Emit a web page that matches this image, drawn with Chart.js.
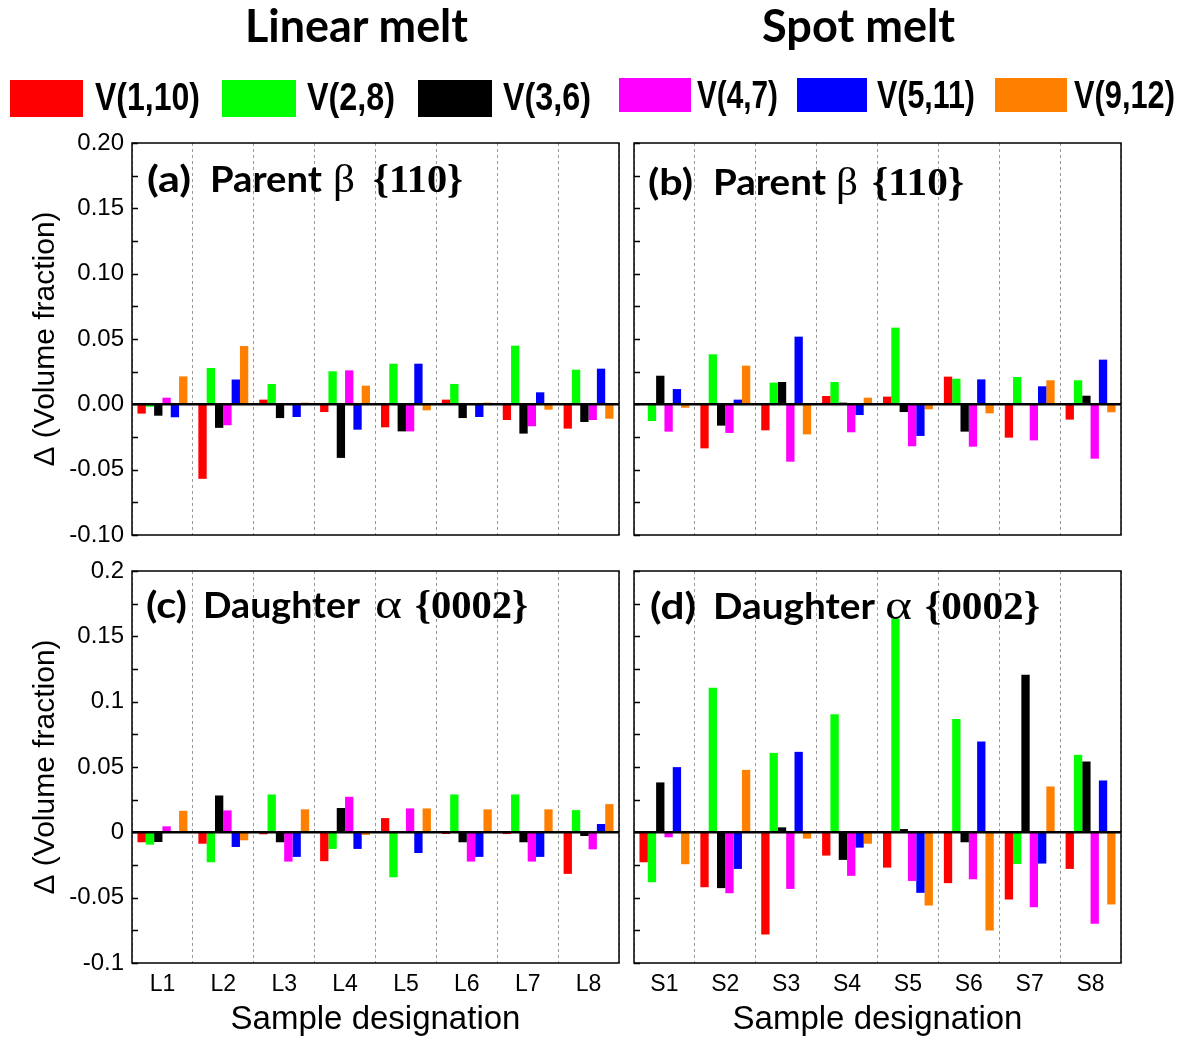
<!DOCTYPE html>
<html>
<head>
<meta charset="utf-8">
<script src="https://cdn.jsdelivr.net/npm/chart.js@4.4.1/dist/chart.umd.min.js"></script>
<style>
  html, body { margin: 0; padding: 0; background: #fff; }
  #page { position: relative; width: 1185px; height: 1040px; overflow: hidden; background: #fff; }
  #page canvas { position: absolute; }
  #overlay { position: absolute; left: 0; top: 0; pointer-events: none; }
</style>
</head>
<body>
<div id="page">
  <canvas id="panelA" width="628" height="430" style="left:0px;top:120px"></canvas>
  <canvas id="panelB" width="559" height="430" style="left:626px;top:120px"></canvas>
  <canvas id="panelC" width="628" height="490" style="left:0px;top:550px"></canvas>
  <canvas id="panelD" width="559" height="490" style="left:626px;top:550px"></canvas>

  <svg id="overlay" width="1185" height="1040" xmlns="http://www.w3.org/2000/svg">
    <!-- column headings -->
    <g font-family="Lato, 'Open Sans', sans-serif" font-weight="700" fill="#000">
      <text x="245" y="42" font-size="45" textLength="223" lengthAdjust="spacingAndGlyphs">Linear melt</text>
      <text x="762" y="42" font-size="45" textLength="193" lengthAdjust="spacingAndGlyphs">Spot melt</text>
    </g>
    <g id="legend"></g>
    <!-- panel captions -->
    <g fill="#000">
      <g font-family="Lato, 'Open Sans', sans-serif" font-weight="700" font-size="37">
        <text x="147" y="192" textLength="44" lengthAdjust="spacingAndGlyphs">(a)</text>
        <text x="210" y="192" textLength="112" lengthAdjust="spacingAndGlyphs">Parent</text>
        <text x="648" y="195" textLength="45" lengthAdjust="spacingAndGlyphs">(b)</text>
        <text x="713" y="195" textLength="113" lengthAdjust="spacingAndGlyphs">Parent</text>
        <text x="146" y="618" textLength="41" lengthAdjust="spacingAndGlyphs">(c)</text>
        <text x="203" y="618" textLength="157" lengthAdjust="spacingAndGlyphs">Daughter</text>
        <text x="650" y="619" textLength="46" lengthAdjust="spacingAndGlyphs">(d)</text>
        <text x="713" y="619" textLength="162" lengthAdjust="spacingAndGlyphs">Daughter</text>
      </g>
      <g font-family="'Liberation Serif', 'DejaVu Serif', serif" font-size="40">
        <text x="333" y="192" textLength="22" lengthAdjust="spacingAndGlyphs">β</text>
        <text x="836" y="195" textLength="22" lengthAdjust="spacingAndGlyphs">β</text>
        <text x="375" y="618" textLength="27" lengthAdjust="spacingAndGlyphs">α</text>
        <text x="885" y="619" textLength="27" lengthAdjust="spacingAndGlyphs">α</text>
      </g>
      <g font-family="'Liberation Serif', 'DejaVu Serif', serif" font-weight="700" font-size="40">
        <text x="373" y="192" textLength="90" lengthAdjust="spacingAndGlyphs">{110}</text>
        <text x="872" y="195" textLength="92" lengthAdjust="spacingAndGlyphs">{110}</text>
        <text x="415" y="618" textLength="113" lengthAdjust="spacingAndGlyphs">{0002}</text>
        <text x="925" y="619" textLength="115" lengthAdjust="spacingAndGlyphs">{0002}</text>
      </g>
    </g>
  </svg>
</div>

<script>
// Variant pairs and their colours
const seriesNames  = ['V(1,10)', 'V(2,8)', 'V(3,6)', 'V(4,7)', 'V(5,11)', 'V(9,12)'];
const seriesColors = ['#ff0000', '#00ff00', '#000000', '#ff00ff', '#0000ff', '#ff8000'];

// Sample designations
const linearSamples = ['L1', 'L2', 'L3', 'L4', 'L5', 'L6', 'L7', 'L8'];
const spotSamples   = ['S1', 'S2', 'S3', 'S4', 'S5', 'S6', 'S7', 'S8'];

// Y tick labels (top row uses two decimals)
const yLabelsTop    = ['-0.10', '-0.05', '0.00', '0.05', '0.10', '0.15', '0.20'];
const yLabelsBottom = ['-0.1', '-0.05', '0', '0.05', '0.1', '0.15', '0.2'];

// Δ volume fraction, one row per variant pair, one value per sample
// (a) Linear melt, parent β {110}
const parentLinear = [
  [-0.0071, -0.0570,  0.0036, -0.0059, -0.0176,  0.0036, -0.0120, -0.0186],
  [-0.0018,  0.0278,  0.0156,  0.0253,  0.0311,  0.0156,  0.0449,  0.0265],
  [-0.0087, -0.0180, -0.0105, -0.0410, -0.0207, -0.0105, -0.0224, -0.0135],
  [ 0.0051, -0.0160,  0.0000,  0.0260, -0.0207,  0.0000, -0.0168, -0.0120],
  [-0.0099,  0.0190, -0.0097, -0.0194,  0.0311, -0.0097,  0.0092,  0.0273],
  [ 0.0214,  0.0446,  0.0013,  0.0143, -0.0046,  0.0013, -0.0041, -0.0110]
];
// (b) Spot melt, parent β {110}
const parentSpot = [
  [ 0.0010, -0.0337, -0.0199,  0.0064,  0.0059,  0.0212, -0.0255, -0.0117],
  [-0.0128,  0.0383,  0.0166,  0.0171,  0.0587,  0.0196,  0.0209,  0.0184],
  [ 0.0219, -0.0163,  0.0171,  0.0013, -0.0059, -0.0209,  0.0000,  0.0066],
  [-0.0209, -0.0219, -0.0439, -0.0214, -0.0321, -0.0324, -0.0276, -0.0416],
  [ 0.0117,  0.0036,  0.0518, -0.0082, -0.0242,  0.0191,  0.0138,  0.0342],
  [-0.0026,  0.0296, -0.0230,  0.0051, -0.0038, -0.0069,  0.0184, -0.0061]
];
// (c) Linear melt, daughter α {0002}
const daughterLinear = [
  [-0.0076, -0.0087, -0.0015, -0.0221,  0.0109, -0.0013, -0.0013, -0.0318],
  [-0.0094, -0.0229,  0.0290, -0.0127, -0.0344,  0.0290,  0.0290,  0.0170],
  [-0.0074,  0.0282, -0.0076,  0.0186,  0.0008, -0.0076, -0.0076, -0.0028],
  [ 0.0046,  0.0168, -0.0224,  0.0272,  0.0183, -0.0224, -0.0224, -0.0130],
  [ 0.0005, -0.0112, -0.0188, -0.0127, -0.0158, -0.0188, -0.0188,  0.0064],
  [ 0.0165, -0.0061,  0.0176, -0.0020,  0.0183,  0.0176,  0.0176,  0.0216]
];
// (d) Spot melt, daughter α {0002}
const daughterSpot = [
  [-0.0229, -0.0420, -0.0781, -0.0178, -0.0270, -0.0389, -0.0514, -0.0280],
  [-0.0382,  0.1107,  0.0608,  0.0903,  0.1634,  0.0868, -0.0242,  0.0593],
  [ 0.0382, -0.0427,  0.0038, -0.0211,  0.0025, -0.0076,  0.1206,  0.0542],
  [-0.0038, -0.0466, -0.0433, -0.0333, -0.0372, -0.0359, -0.0573, -0.0700],
  [ 0.0499, -0.0280,  0.0616, -0.0117, -0.0463,  0.0695, -0.0239,  0.0397],
  [-0.0244,  0.0478, -0.0048, -0.0087, -0.0560, -0.0751,  0.0351, -0.0552]
];

// Legend placement (layout only)
const legendLayout = [
  { x: 10,  y: 80, w: 73, h: 37, tx: 95,   ty: 110, tw: 105 },
  { x: 222, y: 80, w: 74, h: 37, tx: 307,  ty: 110, tw: 88 },
  { x: 418, y: 80, w: 74, h: 37, tx: 503,  ty: 110, tw: 88 },
  { x: 619, y: 78, w: 72, h: 34, tx: 697,  ty: 108, tw: 81 },
  { x: 797, y: 78, w: 70, h: 34, tx: 877,  ty: 108, tw: 98 },
  { x: 995, y: 78, w: 72, h: 34, tx: 1074, ty: 108, tw: 101 }
];

(function buildLegend() {
  const ns = 'http://www.w3.org/2000/svg';
  const g = document.getElementById('legend');
  seriesNames.forEach((name, i) => {
    const L = legendLayout[i];
    const r = document.createElementNS(ns, 'rect');
    r.setAttribute('x', L.x); r.setAttribute('y', L.y);
    r.setAttribute('width', L.w); r.setAttribute('height', L.h);
    r.setAttribute('fill', seriesColors[i]);
    g.appendChild(r);
    const t = document.createElementNS(ns, 'text');
    t.setAttribute('x', L.tx); t.setAttribute('y', L.ty);
    t.setAttribute('font-family', "'Liberation Sans', Arial, sans-serif");
    t.setAttribute('font-weight', '700');
    t.setAttribute('font-size', '38');
    t.setAttribute('textLength', L.tw);
    t.setAttribute('lengthAdjust', 'spacingAndGlyphs');
    t.textContent = name;
    g.appendChild(t);
  });
})();

const FONT = "'Liberation Sans', Arial, sans-serif";
const MINOR_STEP = 0.025;

// Frame, inward tick marks and the zero line
const framePlugin = {
  id: 'frame',
  afterDatasetsDraw(chart) {
    const { ctx, chartArea: a, scales: { y } } = chart;
    ctx.save();
    ctx.strokeStyle = '#000';
    // zero line
    const y0 = y.getPixelForValue(0);
    ctx.lineWidth = 2.5;
    ctx.beginPath();
    ctx.moveTo(a.left, y0);
    ctx.lineTo(a.right, y0);
    ctx.stroke();
    // tick marks pointing into the plot
    ctx.lineWidth = 1.5;
    ctx.beginPath();
    const n = Math.round((y.max - y.min) / MINOR_STEP);
    for (let i = 0; i <= n; i++) {
      const p = Math.round(y.getPixelForValue(y.min + i * MINOR_STEP)) + 0.5;
      ctx.moveTo(a.left, p);
      ctx.lineTo(a.left + 6, p);
    }
    ctx.stroke();
    // box
    ctx.lineWidth = 1.5;
    ctx.strokeRect(a.left, a.top, a.right - a.left, a.bottom - a.top);
    ctx.restore();
  }
};

function buildPanel(id, samples, rows, opt) {
  return new Chart(document.getElementById(id), {
    type: 'bar',
    data: {
      labels: samples,
      datasets: rows.map((vals, i) => ({
        label: seriesNames[i],
        data: vals,
        backgroundColor: seriesColors[i],
        borderWidth: 0,
        categoryPercentage: 0.82,
        barPercentage: 1.0
      }))
    },
    options: {
      responsive: false,
      animation: false,
      devicePixelRatio: 1,
      layout: { padding: { left: 0, top: opt.padTop, right: opt.padRight, bottom: 0 } },
      plugins: { legend: { display: false }, tooltip: { enabled: false } },
      scales: {
        x: {
          type: 'category',
          offset: true,
          grid: { offset: true, color: '#9a9a9a', lineWidth: 1, drawTicks: false },
          border: { display: false, dash: [3, 3] },
          ticks: { display: opt.showX, padding: 8, color: '#000', font: { family: FONT, size: 23 } },
          title: {
            display: opt.showX, text: 'Sample designation', color: '#000',
            font: { family: FONT, size: 33 }, padding: { top: 0, bottom: 0 }
          },
          afterFit: s => {
            s.height = opt.xHeight;
            s.paddingLeft = 0; s.paddingRight = 0;
          }
        },
        y: {
          min: -0.1,
          max: 0.2,
          grid: { display: false, drawTicks: false },
          border: { display: false },
          ticks: {
            display: opt.showY, stepSize: 0.05, padding: 8, color: '#000',
            font: { family: FONT, size: 24 },
            callback: (v, i) => (opt.yLabels ? opt.yLabels[i] : '')
          },
          title: {
            display: opt.showY, text: 'Δ (Volume fraction)', color: '#000',
            font: { family: FONT, size: 30 }, padding: { top: 28, bottom: 0 }
          },
          afterFit: s => {
            s.width = opt.yWidth;
            s.paddingTop = 0; s.paddingBottom = 0;
          }
        }
      }
    },
    plugins: [framePlugin]
  });
}

buildPanel('panelA', linearSamples, parentLinear,
  { padTop: 23, padRight: 9, xHeight: 15, yWidth: 132, showX: false, showY: true, yLabels: yLabelsTop });
buildPanel('panelB', spotSamples, parentSpot,
  { padTop: 23, padRight: 64, xHeight: 15, yWidth: 8, showX: false, showY: false, yLabels: null });
buildPanel('panelC', linearSamples, daughterLinear,
  { padTop: 21, padRight: 9, xHeight: 77, yWidth: 132, showX: true, showY: true, yLabels: yLabelsBottom });
buildPanel('panelD', spotSamples, daughterSpot,
  { padTop: 21, padRight: 64, xHeight: 77, yWidth: 8, showX: true, showY: false, yLabels: null });
</script>
</body>
</html>
